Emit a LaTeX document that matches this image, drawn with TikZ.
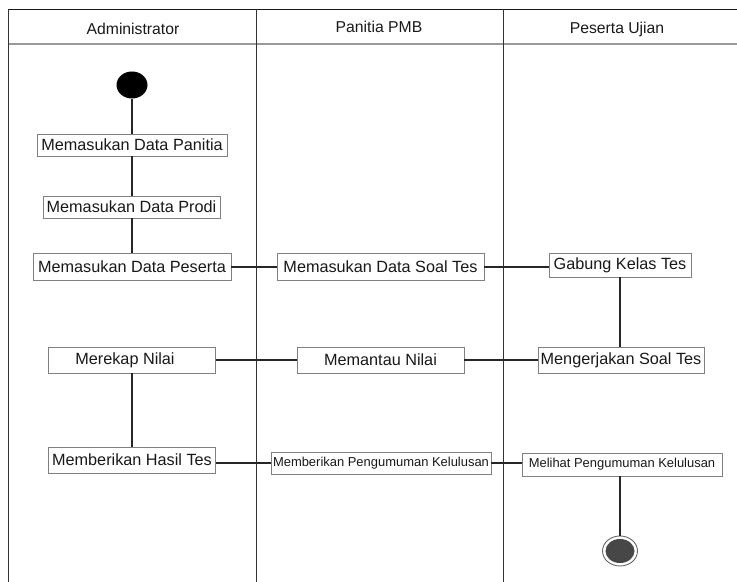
\documentclass[tikz,border=0pt]{standalone}
\usepackage{fontspec}
\setmainfont{Liberation Sans}
\usetikzlibrary{shapes.geometric}
\begin{document}
\begin{tikzpicture}[x=1bp,y=-1bp,
  act/.style={draw=black!50, line width=0.8bp, fill=white, inner sep=0pt, font=\fontsize{16.3}{18}\selectfont, text=black!90},
  smallact/.style={act, font=\fontsize{13}{15}\selectfont},
  lane/.style={draw=black!80, line width=1bp},
  conn/.style={draw=black!85, line width=1.4bp},
  hdr/.style={font=\fontsize{15.8}{18}\selectfont, text=black!90}]
\useasboundingbox (0,0) rectangle (737,582);
% swimlane frame
\coordinate (tl) at (8,9.5);
\coordinate (tr) at (737,9.5);
\coordinate (hl) at (8,44);
\coordinate (hr) at (737,44);
\coordinate (bl) at (8,582);
\coordinate (d1t) at (256,9.5);
\coordinate (d1b) at (256,582);
\coordinate (d2t) at (503,9.5);
\coordinate (d2b) at (503,582);
\draw[draw=black!90, line width=1.3bp] (tl) -- (tr);
\draw[draw=black!40, line width=1.8bp] (hl) -- (hr);
\draw[lane] (tl) -- (bl);
\draw[lane] (d1t) -- (d1b);
\draw[lane] (d2t) -- (d2b);
\node[hdr] (h1) at (133,29) {Administrator};
\node[hdr] (h2) at (379,26.5) {Panitia PMB};
\node[hdr] (h3) at (617,29) {Peserta Ujian};
% start / end
\node[ellipse, fill=black, minimum width=31bp, minimum height=27bp, inner sep=0pt] (start) at (132,85) {};
% activities
\node[act, minimum width=190bp, minimum height=22bp] (p1) at (132,145) {Memasukan Data Panitia};
\node[act, minimum width=177bp, minimum height=22bp] (p2) at (131.5,207) {Memasukan Data Prodi};
\node[act, minimum width=198bp, minimum height=27bp] (p3) at (132,267) {Memasukan Data Peserta};
\node[act, minimum width=207bp, minimum height=27bp] (s1) at (380.5,267) {Memasukan Data Soal Tes};
\node[act, minimum width=142bp, minimum height=24bp] (g1) at (620,265) {Gabung Kelas Tes};
\node[act, minimum width=167bp, minimum height=26bp] (r1) at (132,360) {Merekap Nilai\hspace*{14bp}};
\node[act, minimum width=167bp, minimum height=26bp] (m1) at (380.5,360) {Memantau Nilai};
\node[act, minimum width=166bp, minimum height=26bp] (k1) at (621,360) {Mengerjakan Soal Tes};
\node[act, minimum width=167bp, minimum height=26bp] (hs) at (132,460) {Memberikan Hasil Tes};
\node[smallact, minimum width=220bp, minimum height=22bp] (pk) at (381,463) {Memberikan Pengumuman Kelulusan};
\node[smallact, minimum width=200bp, minimum height=23bp] (mk) at (622,464.5) {Melihat Pengumuman Kelulusan};
\node[ellipse, draw=black!60, line width=0.9bp, fill=white, minimum width=35bp, minimum height=30bp, inner sep=0pt] (endo) at (620,551) {};
\node[ellipse, fill=black!72, minimum width=29bp, minimum height=24bp, inner sep=0pt] (endi) at (620,551) {};
% connectors
\draw[conn] (start.south) -- (p1.north);
\draw[conn] (p1.south) -- (p2.north -| p1.south);
\draw[conn] (p2.south -| p1.south) -- (p3.north -| p1.south);
\draw[conn] (p3.east) -- (s1.west);
\draw[conn] (s1.east |- 0,267) -- (g1.west |- 0,267);
\draw[conn] (g1.south) -- (k1.north -| g1.south);
\draw[conn] (r1.east) -- (m1.west);
\draw[conn] (m1.east) -- (k1.west);
\draw[conn] (r1.south) -- (hs.north);
\draw[conn] (hs.east |- 0,463) -- (pk.west);
\draw[conn] (pk.east) -- (mk.west |- pk.east);
\draw[conn] (mk.south -| endo.north) -- (endo.north);
\end{tikzpicture}
\end{document}
